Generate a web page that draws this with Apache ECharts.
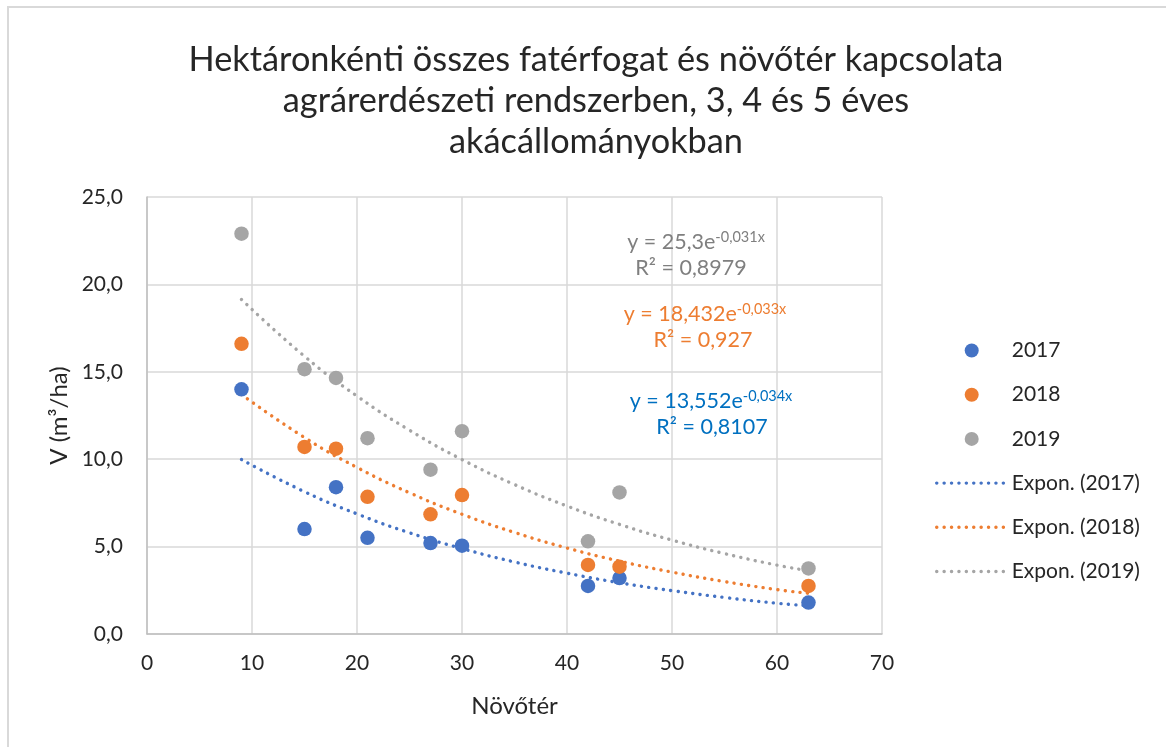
<!DOCTYPE html>
<html>
<head>
<meta charset="utf-8">
<script src="https://cdn.jsdelivr.net/npm/echarts@6/dist/echarts.min.js"></script>
<style>
html,body{margin:0;padding:0;background:#fff;}
#c{width:1166px;height:747px;}
</style>
</head>
<body>
<div id="c"></div>
<script>
// Növőtér (x) values
const xs = [9, 15, 18, 21, 27, 30, 42, 45, 63];
// V (m3/ha) per year
const v2017 = [14.0, 6.0, 8.4, 5.5, 5.2, 5.05, 2.75, 3.2, 1.8];
const v2018 = [16.6, 10.7, 10.6, 7.85, 6.85, 7.95, 3.95, 3.85, 2.75];
const v2019 = [22.9, 15.15, 14.65, 11.2, 9.4, 11.6, 5.3, 8.1, 3.75];
// trendline readings (Expon.) at these x positions
const trendX = [9, 15, 20, 25, 30, 35, 40, 45, 50, 55, 60, 63];
const trend2017 = [9.98, 8.14, 6.87, 5.79, 4.89, 4.12, 3.48, 2.93, 2.48, 2.09, 1.76, 1.62];
const trend2018 = [13.70, 11.24, 9.53, 8.08, 6.85, 5.81, 4.92, 4.17, 3.54, 3.00, 2.54, 2.33];
const trend2019 = [19.14, 15.89, 13.61, 11.66, 9.98, 8.55, 7.32, 6.27, 5.37, 4.60, 3.94, 3.62];
const seriesNames = ['2017', '2018', '2019', 'Expon. (2017)', 'Expon. (2018)', 'Expon. (2019)'];
const xTicks = [0, 10, 20, 30, 40, 50, 60, 70];
const yTicks = [0, 5, 10, 15, 20, 25];

const FONT = 'Lato, "Open Sans", "Noto Sans", sans-serif';
const C17 = '#4472C4', C18 = '#ED7D31', C19 = '#A5A5A5';

const pair = (a, b) => a.map((v, i) => [v, b[i]]);
const dot = [0.1, 7.3];

const chart = echarts.init(document.getElementById('c'), null, {renderer: 'canvas'});

function eqLines(x1, x2, y1, y2, l1, sup, l2, color) {
  return [
    {type: 'text', x: x1, y: y1, z: 10,
     style: {text: '{m|' + l1 + '}{s|' + sup + '}', textAlign: 'center', textVerticalAlign: 'middle',
       rich: {m: {fontSize: 21.5, fontFamily: FONT, fill: color, color: color, lineHeight: 24},
              s: {fontSize: 14.5, fontFamily: FONT, fill: color, color: color, verticalAlign: 'top', lineHeight: 24, padding: [0, 0, 9, 0]}}}},
    {type: 'text', x: x2, y: y2, z: 10,
     style: {text: l2, textAlign: 'center', textVerticalAlign: 'middle', fontSize: 21.5, fontFamily: FONT, fill: color}}
  ];
}

const lineLegend = (name, c) => ({name: name, itemStyle: {opacity: 0},
  lineStyle: {color: c, width: 3.4, type: dot, cap: 'round'}});

const option = {
  backgroundColor: '#fff',
  animation: false,
  title: {
    text: 'Hektáronkénti összes fatérfogat és növőtér kapcsolata\nagrárerdészeti rendszerben, 3, 4 és 5 éves\nakácállományokban',
    left: 591, top: 34, textAlign: 'center',
    textStyle: {fontFamily: FONT, fontSize: 34.3, fontWeight: 'normal', color: '#262626', lineHeight: 41}
  },
  grid: {left: 147, right: 1166 - 882, top: 197, bottom: 747 - 634},
  xAxis: {
    type: 'value', min: 0, max: 70, interval: 10,
    name: 'Növőtér', nameLocation: 'middle', nameGap: 60,
    nameTextStyle: {fontFamily: FONT, fontSize: 24, color: '#262626'},
    axisLine: {show: true, lineStyle: {color: '#bfbfbf', width: 1.5}},
    axisTick: {show: false},
    axisLabel: {fontFamily: FONT, fontSize: 21, color: '#262626', margin: 19,
      formatter: v => xTicks.includes(v) ? String(v) : ''},
    splitLine: {show: true, lineStyle: {color: '#d9d9d9', width: 1.5}}
  },
  yAxis: {
    type: 'value', min: 0, max: 25, interval: 5,
    name: 'V (m³/ha)', nameLocation: 'middle', nameGap: 73, nameRotate: 90,
    nameTextStyle: {fontFamily: FONT, fontSize: 24, color: '#262626'},
    axisLine: {show: true, lineStyle: {color: '#bfbfbf', width: 1.5}},
    axisTick: {show: false},
    axisLabel: {fontFamily: FONT, fontSize: 21, color: '#262626', margin: 24,
      formatter: v => yTicks.includes(v) ? v.toFixed(1).replace('.', ',') : ''},
    splitLine: {show: true, lineStyle: {color: '#d9d9d9', width: 1.5}}
  },
  legend: {
    orient: 'vertical', left: 935, top: 340, padding: 0,
    itemWidth: 70, itemHeight: 14, itemGap: 23.2,
    textStyle: {fontFamily: FONT, fontSize: 21, color: '#262626'},
    data: [
      {name: seriesNames[0], icon: 'circle'},
      {name: seriesNames[1], icon: 'circle'},
      {name: seriesNames[2], icon: 'circle'},
      lineLegend(seriesNames[3], C17),
      lineLegend(seriesNames[4], C18),
      lineLegend(seriesNames[5], C19)
    ]
  },
  series: [
    {name: seriesNames[3], type: 'line', data: pair(trendX, trend2017), smooth: true, symbol: 'none', z: 1,
     itemStyle: {color: C17}, lineStyle: {color: C17, width: 3.4, type: dot, cap: 'round'}},
    {name: seriesNames[4], type: 'line', data: pair(trendX, trend2018), smooth: true, symbol: 'none', z: 1,
     itemStyle: {color: C18}, lineStyle: {color: C18, width: 3.4, type: dot, cap: 'round'}},
    {name: seriesNames[5], type: 'line', data: pair(trendX, trend2019), smooth: true, symbol: 'none', z: 1,
     itemStyle: {color: C19}, lineStyle: {color: C19, width: 3.4, type: dot, cap: 'round'}},
    {name: seriesNames[0], type: 'scatter', data: pair(xs, v2017), symbolSize: 14.5, z: 3, itemStyle: {color: C17, opacity: 1}},
    {name: seriesNames[1], type: 'scatter', data: pair(xs, v2018), symbolSize: 14.5, z: 3, itemStyle: {color: C18, opacity: 1}},
    {name: seriesNames[2], type: 'scatter', data: pair(xs, v2019), symbolSize: 14.5, z: 3, itemStyle: {color: C19, opacity: 1}}
  ],
  graphic: [
    {type: 'rect', shape: {x: 8, y: 7, width: 1200, height: 800}, silent: true, z: -1,
     style: {fill: 'none', stroke: '#d9d9d9', lineWidth: 2}}
  ].concat(
    eqLines(696, 691, 242, 268, 'y = 25,3e', '-0,031x', 'R² = 0,8979', '#7f7f7f'),
    eqLines(705, 703, 314, 340, 'y = 18,432e', '-0,033x', 'R² = 0,927', '#ED7D31'),
    eqLines(711, 712, 401, 427, 'y = 13,552e', '-0,034x', 'R² = 0,8107', '#0070C0')
  )
};
chart.setOption(option);
</script>
</body>
</html>
